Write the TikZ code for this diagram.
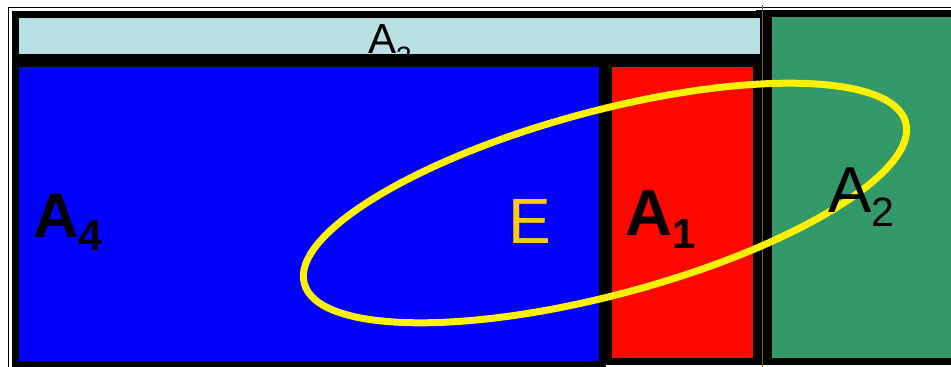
\documentclass[tikz,border=0pt]{standalone}
\usepackage{fontspec}
\setmainfont{Liberation Sans}
\definecolor{lightbar}{RGB}{185,224,226}
\definecolor{bluefill}{RGB}{0,0,255}
\definecolor{redfill}{RGB}{252,8,0}
\definecolor{greenfill}{RGB}{52,153,104}
\definecolor{ecolor}{RGB}{255,204,0}
\definecolor{olive}{RGB}{110,100,20}
\tikzset{
  region/.style={draw=black, line width=7pt},
  lbl/.style={inner sep=0pt, anchor=base west, text=black},
  thinline/.style={draw=black, line width=1pt},
}
\begin{document}
\begin{tikzpicture}[x=1pt,y=-1pt]
\useasboundingbox (0,0) rectangle (951,367);
\clip (0,0) rectangle (951,367);
\fill[white] (0,0) rectangle (951,367);
% thin guide lines
\draw[thinline] (8,7) -- (951,7);
\draw[thinline] (8,7) -- (8,367);
% green region A2
\fill[black] (756,10) rectangle (772,365);
\draw[region, fill=greenfill] (768,13.5) rectangle (970,361.5);
% light bar A3
\fill[lightbar] (15.5,14.5) rectangle (763.5,57.5);
\node[lbl] (a3) at (368,53) {\fontsize{42}{42}\selectfont A\raisebox{-13pt}{\fontsize{28}{28}\selectfont 3}};
\draw[region] (15.5,14.5) rectangle (763.5,57.5);
% blue region A4
\draw[region, fill=bluefill] (15.5,63.5) rectangle (602.5,364.5);
% red region A1
\draw[region, fill=redfill] (608.5,63.5) rectangle (756.5,361.5);
\draw[olive, line width=1pt] (762,5) -- (762,367);
% ellipse E
\draw[yellow, line width=7pt, rotate around={15:(605,203)}] (605,203) ellipse (311.3pt and 91.8pt);
% labels
\node[lbl] (a4) at (33,237) {\fontsize{63}{63}\selectfont\bfseries A\raisebox{-13pt}{\fontsize{43}{43}\selectfont 4}};
\node[lbl, text=ecolor] (e) at (508,243) {\fontsize{64}{64}\selectfont E};
\node[lbl] (a1) at (625,235) {\fontsize{65}{65}\selectfont\bfseries A\raisebox{-13pt}{\fontsize{42}{42}\selectfont 1}};
\node[lbl] (a2) at (828,212) {\fontsize{65}{65}\selectfont A\raisebox{-14pt}{\fontsize{41}{41}\selectfont 2}};
\end{tikzpicture}
\end{document}
